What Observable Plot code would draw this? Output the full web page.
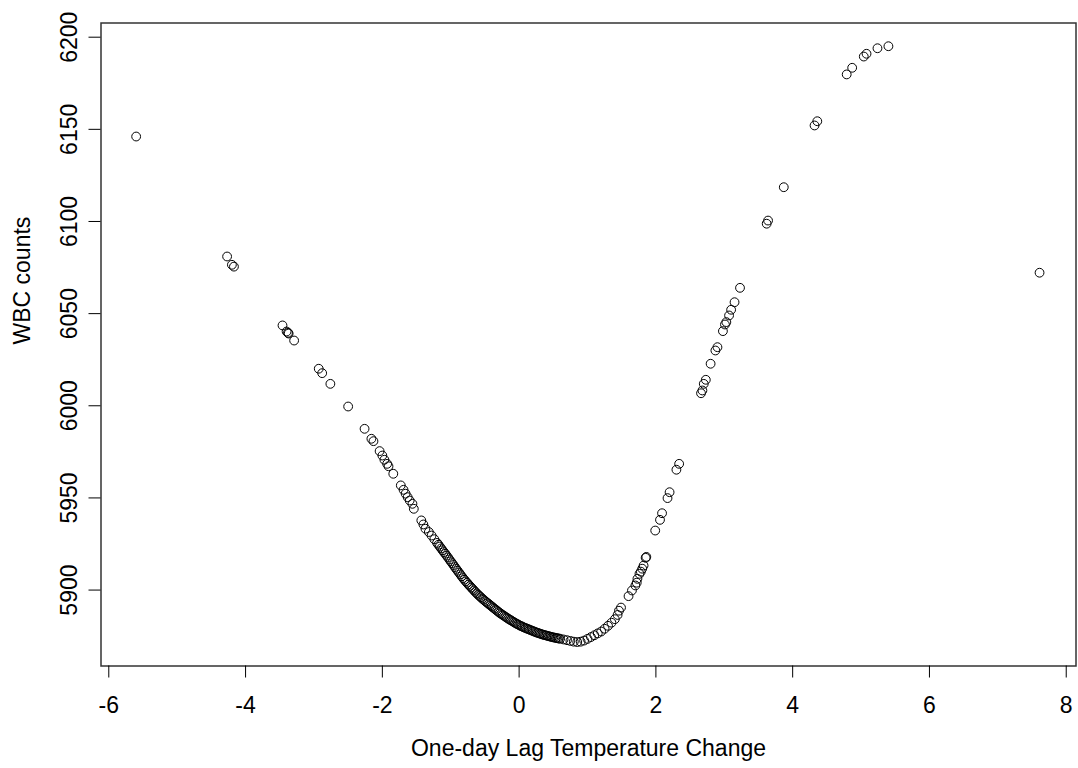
<!DOCTYPE html>
<html>
<head>
<meta charset="utf-8">
<script src="https://cdn.jsdelivr.net/npm/d3@7"></script>
<script src="https://cdn.jsdelivr.net/npm/@observablehq/plot@0.6"></script>
<style>
  html, body { margin: 0; padding: 0; background: #fff; }
  #chart svg { display: block; }
</style>
</head>
<body>
<div id="chart"></div>
<script>
const lagTempChange = [
  -5.60, -4.27, -4.20, -4.17, -3.46, -3.40, -3.38, -3.37, -3.29, -2.93, -2.88, -2.76, -2.50,
  -2.26, -2.16, -2.13, -2.04, -2.00, -1.97, -1.93, -1.91, -1.84, -1.73, -1.69, -1.66, -1.63,
  -1.60, -1.56, -1.54, -1.43, -1.40, -1.37, -1.32, -1.28, -1.24,
  -1.20, -1.18, -1.16, -1.14, -1.12, -1.10, -1.08, -1.06, -1.04, -1.02,
  -1.00, -0.98, -0.96, -0.94, -0.92, -0.90, -0.88, -0.86, -0.84, -0.82,
  -0.80, -0.78, -0.76, -0.74, -0.72, -0.70, -0.68, -0.66, -0.64, -0.62,
  -0.60, -0.58, -0.56, -0.54, -0.52, -0.50, -0.48, -0.46, -0.44, -0.42,
  -0.40, -0.38, -0.36, -0.34, -0.32, -0.30, -0.28, -0.26, -0.24, -0.22,
  -0.20, -0.18, -0.16, -0.14, -0.12, -0.10, -0.08, -0.06, -0.04, -0.02,
  0.00, 0.02, 0.04, 0.06, 0.08, 0.10, 0.12, 0.14, 0.16, 0.18,
  0.20, 0.22, 0.24, 0.26, 0.28, 0.30, 0.32, 0.34, 0.36, 0.38,
  0.40, 0.42, 0.44, 0.46, 0.48, 0.50, 0.52, 0.54, 0.56, 0.58, 0.60,
  0.65, 0.70, 0.75, 0.80, 0.85, 0.90, 0.95, 1.00, 1.05, 1.10, 1.15, 1.20, 1.25, 1.30,
  1.35, 1.40, 1.44, 1.46, 1.49, 1.60, 1.65, 1.70, 1.72, 1.73, 1.76, 1.78, 1.80, 1.82, 1.85,
  1.86, 1.99, 2.06, 2.09, 2.17, 2.20, 2.30, 2.34, 2.66, 2.68, 2.70, 2.73, 2.80, 2.87, 2.90,
  2.98, 3.01, 3.03, 3.07, 3.10, 3.15, 3.23, 3.62, 3.64, 3.87, 4.32, 4.36, 4.79, 4.87, 5.04,
  5.08, 5.24, 5.40, 7.61
];
const wbcCounts = [
  6146.1, 6081.0, 6076.5, 6075.5, 6043.6, 6040.3, 6039.6, 6039.2, 6035.4, 6020.1, 6017.7, 6011.9, 5999.6,
  5987.5, 5982.1, 5980.8, 5975.4, 5973.0, 5970.7, 5968.5, 5967.2, 5963.1, 5956.8, 5954.4, 5952.3, 5950.4,
  5948.6, 5946.8, 5944.1, 5937.8, 5935.6, 5933.3, 5931.5, 5929.6, 5927.6,
  5925.6, 5924.6, 5923.6, 5922.6, 5921.6, 5920.6, 5919.7, 5918.7, 5917.7, 5916.6,
  5915.6, 5914.6, 5913.6, 5912.5, 5911.5, 5910.5, 5909.5, 5908.5, 5907.5, 5906.5,
  5905.6, 5904.7, 5903.9, 5903.0, 5902.2, 5901.4, 5900.6, 5899.8, 5899.0, 5898.2,
  5897.5, 5896.8, 5896.1, 5895.4, 5894.8, 5894.1, 5893.5, 5892.9, 5892.3, 5891.7,
  5891.1, 5890.5, 5889.9, 5889.3, 5888.7, 5888.1, 5887.5, 5887.0, 5886.5, 5886.0,
  5885.5, 5885.0, 5884.5, 5884.0, 5883.6, 5883.1, 5882.7, 5882.2, 5881.8, 5881.4,
  5881.0, 5880.6, 5880.3, 5879.9, 5879.6, 5879.3, 5879.0, 5878.7, 5878.4, 5878.1,
  5877.8, 5877.5, 5877.2, 5876.9, 5876.7, 5876.4, 5876.2, 5875.9, 5875.7, 5875.5,
  5875.3, 5875.1, 5874.9, 5874.7, 5874.5, 5874.3, 5874.2, 5874.0, 5873.9, 5873.7, 5873.6,
  5873.2, 5872.8, 5872.4, 5872.0, 5871.8, 5872.0, 5872.6, 5873.5, 5874.5, 5875.5, 5876.5, 5877.5, 5879.0, 5880.6,
  5882.3, 5884.2, 5886.5, 5888.8, 5890.5, 5896.7, 5899.8, 5902.5, 5904.0, 5906.1, 5908.8, 5910.0, 5911.6, 5913.3, 5917.5,
  5918.0, 5932.3, 5938.1, 5941.7, 5949.9, 5953.1, 5965.3, 5968.5, 6006.8, 6008.3, 6011.9, 6014.1, 6022.8, 6030.0, 6031.8,
  6040.5, 6044.1, 6045.4, 6049.0, 6052.1, 6056.2, 6064.0, 6098.8, 6100.5, 6118.6, 6152.1, 6154.4, 6179.8, 6183.4, 6189.5,
  6191.0, 6194.0, 6195.1, 6072.2
];
const xTicks = [-6, -4, -2, 0, 2, 4, 6, 8];
const yTicks = [5900, 5950, 6000, 6050, 6100, 6150, 6200];
const xTitle = "One-day Lag Temperature Change";
const yTitle = "WBC counts";

const points = lagTempChange.map((x, i) => ({x, y: wbcCounts[i]}));
const font = "'Liberation Sans', Arial, Helvetica, sans-serif";
const fs = 23;

const chart = Plot.plot({
  width: 1078,
  height: 768,
  marginLeft: 100.5,
  marginRight: 2.5,
  marginTop: 22.5,
  marginBottom: 102.5,
  style: {fontFamily: font, background: "#fff", color: "#000"},
  x: {domain: [-6.114, 8.143], axis: null},
  y: {domain: [5858.8, 6207.7], axis: null},
  marks: [
    Plot.frame({stroke: "#333", strokeWidth: 1.5}),
    Plot.axisX(xTicks, {anchor: "bottom", tickSize: 12, tickPadding: 19, fontSize: fs, label: null, tickFormat: d => String(d), stroke: "#000", fill: "#000"}),
    Plot.axisY(yTicks, {anchor: "left", tickSize: 12, tickFormat: () => "", label: null, stroke: "#000"}),
    Plot.text(yTicks, {y: d => d, text: d => String(d), frameAnchor: "left", dx: -31, rotate: -90, textAnchor: "middle", lineAnchor: "middle", fontSize: fs, fill: "#000"}),
    Plot.text([xTitle], {frameAnchor: "bottom", dy: 83, lineAnchor: "middle", fontSize: fs, fill: "#000"}),
    Plot.text([yTitle], {frameAnchor: "left", dx: -78, rotate: -90, lineAnchor: "middle", fontSize: fs, fill: "#000"}),
    Plot.dot(points, {x: "x", y: "y", r: 4.4, stroke: "#000", strokeWidth: 1, fill: "none"})
  ]
});
document.getElementById("chart").appendChild(chart);
</script>
</body>
</html>
